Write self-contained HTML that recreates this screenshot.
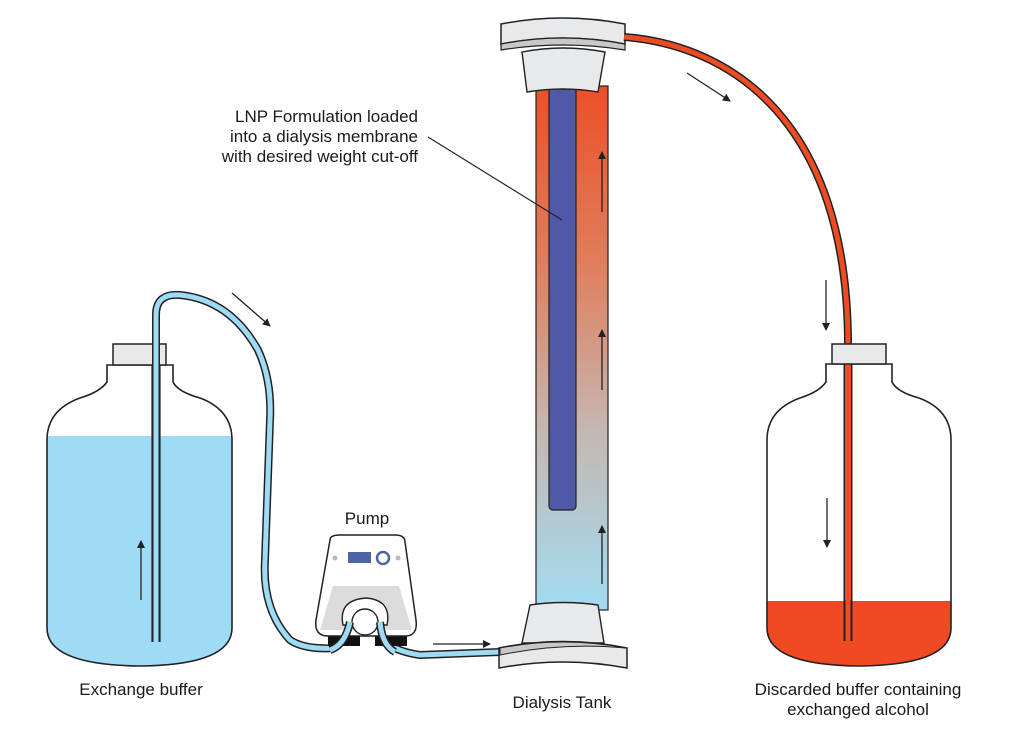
<!DOCTYPE html>
<html><head><meta charset="utf-8"><style>
html,body{margin:0;padding:0;background:#fff;}
svg{display:block;}
text{font-family:"Liberation Sans Narrow","Liberation Sans",sans-serif;fill:#1a1a1a;font-size:17px;}
</style></head><body>
<svg width="1024" height="742" viewBox="0 0 1024 742" xmlns="http://www.w3.org/2000/svg">
<defs>
<linearGradient id="col" x1="0" y1="0" x2="0" y2="1">
<stop offset="0" stop-color="#ec4f28"/>
<stop offset="0.35" stop-color="#df805f"/>
<stop offset="0.65" stop-color="#c6b6b0"/>
<stop offset="1" stop-color="#a2dcf2"/>
</linearGradient>
<marker id="ah" markerWidth="8" markerHeight="8" refX="7" refY="4" orient="auto" markerUnits="userSpaceOnUse">
<path d="M0,0 L8,4 L0,8 Z" fill="#222"/>
</marker>
<clipPath id="lb"><path d="M107,365 L107,382 Q100,392 80,398 Q47,410 47,440 L47,628 Q47,665 140,666 Q232,665 232,628 L232,440 Q232,410 200,398 Q178,392 173,382 L173,365 Z"/></clipPath>
<clipPath id="rb"><path d="M826,364 L826,382 Q819,392 800,398 Q767,410 767,440 L767,628 Q767,665 859,666 Q951,665 951,628 L951,440 Q951,410 919,398 Q897,392 892,382 L892,364 Z"/></clipPath>
</defs>

<!-- Left bottle -->
<rect x="40" y="436" width="200" height="240" fill="#9fdbf5" clip-path="url(#lb)"/>
<path d="M107,365 L107,382 Q100,392 80,398 Q47,410 47,440 L47,628 Q47,665 140,666 Q232,665 232,628 L232,440 Q232,410 200,398 Q178,392 173,382 L173,365 Z" fill="none" stroke="#222" stroke-width="1.6"/>
<rect x="113" y="344" width="53" height="21" fill="#e8e9eb" stroke="#222" stroke-width="1.5"/>

<!-- blue tube -->
<path d="M156,642 L156,315 Q156,293 180,295 Q230,300 258,350 Q272,380 270,420 L265,560 Q262,610 290,640 Q305,650 335,648" fill="none" stroke="#222" stroke-width="8"/>
<path d="M156,642 L156,315 Q156,293 180,295 Q230,300 258,350 Q272,380 270,420 L265,560 Q262,610 290,640 Q305,650 335,648" fill="none" stroke="#9fdbf5" stroke-width="5"/>
<path d="M376,630 Q385,650 420,655 L500,652" fill="none" stroke="#222" stroke-width="8"/>
<path d="M376,630 Q385,650 420,655 L500,652" fill="none" stroke="#9fdbf5" stroke-width="5"/>

<!-- Pump -->
<rect x="328" y="630" width="32" height="16" fill="#111"/>
<rect x="375" y="630" width="32" height="16" fill="#111"/>
<path d="M330,540 Q330,535 340,535 L395,535 Q405,535 405,542 L416,620 Q418,636 405,636 L328,636 Q314,636 316,620 Z" fill="#fff" stroke="#222" stroke-width="1.5"/>
<path d="M333,586 L399,586 L412,630 L320,630 Z" fill="#dcdcdc"/>
<path d="M343,625 Q338,600 366,598 Q392,600 387,625 Z" fill="#fff" stroke="#222" stroke-width="1.4"/>
<circle cx="365" cy="622" r="13" fill="#fff" stroke="#222" stroke-width="1.4"/>
<path d="M350,622 Q345,645 330,650" fill="none" stroke="#222" stroke-width="8"/>
<path d="M350,622 Q345,645 330,650" fill="none" stroke="#9fdbf5" stroke-width="5"/>
<path d="M380,622 Q382,645 395,652" fill="none" stroke="#222" stroke-width="8"/>
<path d="M380,622 Q382,645 395,652" fill="none" stroke="#9fdbf5" stroke-width="5"/>
<rect x="348" y="552" width="23" height="11" fill="#4e64a6"/>
<circle cx="383" cy="558" r="6" fill="none" stroke="#4e64a6" stroke-width="2.5"/>
<circle cx="335" cy="558" r="2.5" fill="#bbb"/>
<circle cx="398" cy="558" r="2.5" fill="#bbb"/>
<text x="367" y="524" text-anchor="middle">Pump</text>

<!-- Column -->
<rect x="536" y="86" width="72" height="524" fill="url(#col)" stroke="#222" stroke-width="1.2"/>
<rect x="549" y="86" width="27" height="424" rx="4" fill="#4f59a8" stroke="#222" stroke-width="1.2"/>
<!-- top cap -->
<path d="M501,24 Q563,12 625,24 L625,44 Q563,32 501,44 Z" fill="#e8e9eb" stroke="#222" stroke-width="1.5"/>
<path d="M501,44 Q563,32 625,44 L625,50 Q563,40 501,50 Z" fill="#c8c8c8" stroke="#222" stroke-width="1.2"/>
<path d="M522,52 Q563,44 605,52 L598,92 Q563,86 527,92 Z" fill="#e8e9eb" stroke="#222" stroke-width="1.4"/>
<!-- bottom cap -->
<path d="M530,605 Q563,600 598,605 L604,643 L522,643 Z" fill="#e8e9eb" stroke="#222" stroke-width="1.4"/>
<path d="M499,648 Q563,635 627,648 L627,668 Q563,656 499,668 Z" fill="#e8e9eb" stroke="#222" stroke-width="1.5"/>
<path d="M500,648 Q563,636 626,648 Q563,642 500,655 Z" fill="#c8c8c8" stroke="#222" stroke-width="1"/>

<!-- red tube -->
<path d="M624,37 C730,45 848,120 848,345" fill="none" stroke="#222" stroke-width="8"/>
<path d="M624,37 C730,45 848,120 848,345" fill="none" stroke="#ee4b24" stroke-width="5"/>

<!-- Right bottle -->
<rect x="760" y="601" width="200" height="70" fill="#ef4a23" clip-path="url(#rb)"/>
<path d="M826,364 L826,382 Q819,392 800,398 Q767,410 767,440 L767,628 Q767,665 859,666 Q951,665 951,628 L951,440 Q951,410 919,398 Q897,392 892,382 L892,364 Z" fill="none" stroke="#222" stroke-width="1.6"/>
<path d="M846,345 L846,641 M850,345 L850,641" stroke="#222" stroke-width="5"/>
<rect x="845" y="345" width="6" height="296" fill="#ee4b24"/>
<path d="M845,600 L845,641 M851,600 L851,641" stroke="#222" stroke-width="1"/>
<rect x="832" y="344" width="54" height="20" fill="#e8e9eb" stroke="#222" stroke-width="1.5"/>
<path d="M152,365 L152,642 M160,365 L160,642" stroke="#222" stroke-width="1.2"/>

<!-- arrows -->
<g stroke="#222" stroke-width="1.3" fill="none" marker-end="url(#ah)">
<line x1="141" y1="600" x2="141" y2="541"/>
<line x1="232" y1="293" x2="270" y2="326"/>
<line x1="433" y1="644" x2="490" y2="644"/>
<line x1="602" y1="212" x2="602" y2="152"/>
<line x1="602" y1="390" x2="602" y2="330"/>
<line x1="602" y1="584" x2="602" y2="526"/>
<line x1="687" y1="73" x2="730" y2="101"/>
<line x1="826" y1="280" x2="826" y2="330"/>
<line x1="827" y1="498" x2="827" y2="547"/>
</g>

<!-- leader -->
<line x1="428" y1="137" x2="562" y2="220" stroke="#222" stroke-width="1.2"/>
<text x="418" y="122" text-anchor="end">LNP Formulation loaded</text>
<text x="418" y="142" text-anchor="end">into a dialysis membrane</text>
<text x="418" y="162" text-anchor="end">with desired weight cut-off</text>

<text x="141" y="695" text-anchor="middle">Exchange buffer</text>
<text x="562" y="708" text-anchor="middle">Dialysis Tank</text>
<text x="858" y="695" text-anchor="middle">Discarded buffer containing</text>
<text x="858" y="715" text-anchor="middle">exchanged alcohol</text>
</svg>
</body></html>
